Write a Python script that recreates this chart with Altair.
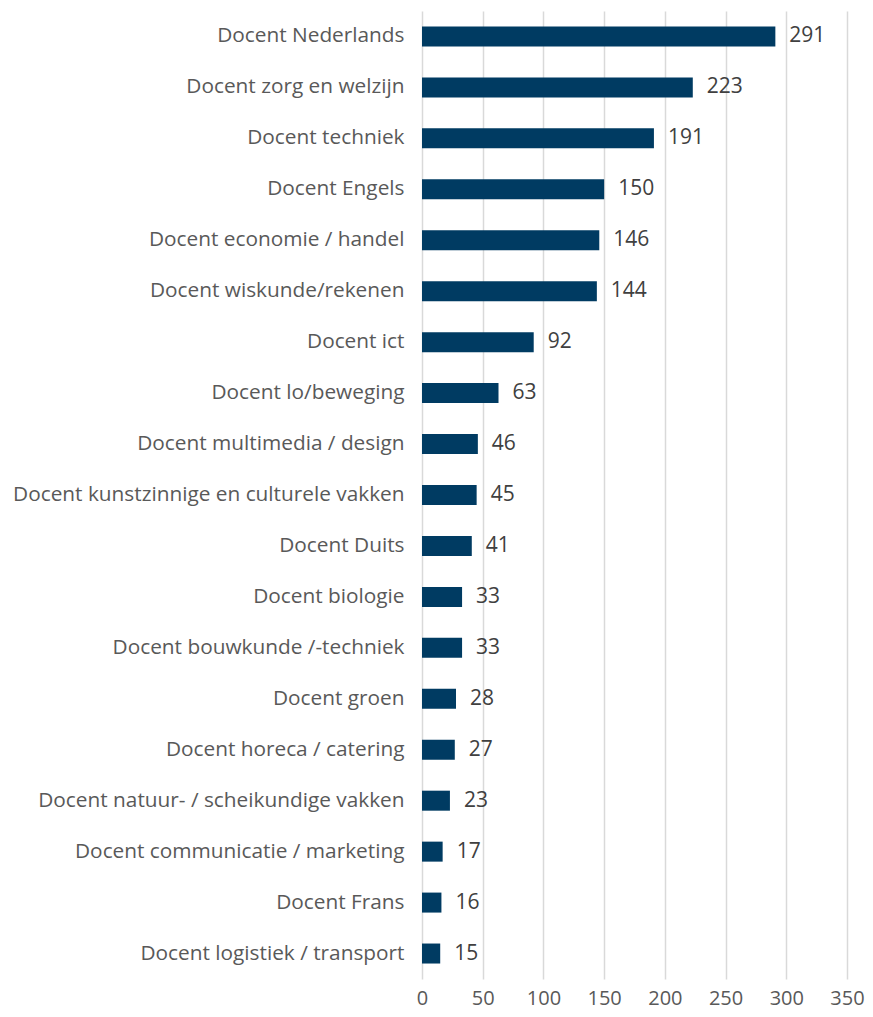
import altair as alt
import pandas as pd

categories = [
    "Docent Nederlands", "Docent zorg en welzijn", "Docent techniek", "Docent Engels",
    "Docent economie / handel", "Docent wiskunde/rekenen", "Docent ict", "Docent lo/beweging",
    "Docent multimedia / design", "Docent kunstzinnige en culturele vakken", "Docent Duits",
    "Docent biologie", "Docent bouwkunde /-techniek", "Docent groen", "Docent horeca / catering",
    "Docent natuur- / scheikundige vakken", "Docent communicatie / marketing", "Docent Frans",
    "Docent logistiek / transport",
]
values = [291, 223, 191, 150, 146, 144, 92, 63, 46, 45, 41, 33, 33, 28, 27, 23, 17, 16, 15]
x_ticks = [0, 50, 100, 150, 200, 250, 300, 350]

df = pd.DataFrame({"cat": categories, "val": values})

FONT = "Open Sans"
y = alt.Y("cat:N", sort=categories, title=None,
          scale=alt.Scale(paddingInner=0, paddingOuter=0),
          axis=alt.Axis(domain=False, ticks=False, labelPadding=18, labelFontSize=20.8,
                        labelColor="#595959", labelFont=FONT, labelLimit=500))
x = alt.X("val:Q", title=None, scale=alt.Scale(domain=[0, 350], nice=False),
          axis=alt.Axis(values=x_ticks, domain=False, ticks=False, labelPadding=9,
                        labelFlush=False, labelFontSize=20, labelColor="#595959",
                        labelFont=FONT, gridColor="#d9d9d9", gridWidth=1.5))

bars = alt.Chart(df).mark_bar(color="#003B62", size=20).encode(x=x, y=y)
text = alt.Chart(df).mark_text(align="left", dx=14, fontSize=21, color="#404040", font=FONT).encode(
    x="val:Q", y=alt.Y("cat:N", sort=categories), text="val:Q")

chart = (bars + text).properties(
    width=425, height=968,
    padding={"left": 414, "top": 3, "right": 18, "bottom": 30},
    autosize=alt.AutoSizeParams(type="none"),
).configure_view(stroke=None)

chart.save("out.html", embed_options={"renderer": "svg", "actions": False})
